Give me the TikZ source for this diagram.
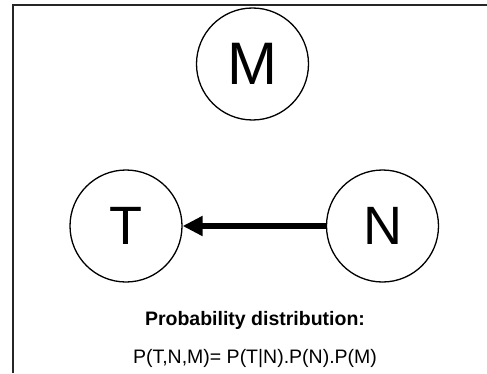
\documentclass[tikz,border=0pt]{standalone}
\usepackage{fontspec}
\setmainfont{Liberation Sans}
\usetikzlibrary{arrows.meta}

\tikzset{
  var/.style={circle, draw, line width=1.3pt, minimum size=112pt, inner sep=0pt,
    font=\fontsize{54}{54}\selectfont},
  frame/.style={line width=2pt, color=black!85},
  label/.style={anchor=base, inner sep=0pt, font=\fontsize{19.5}{19.5}\selectfont}
}

\begin{document}
\begin{tikzpicture}[x=1pt, y=1pt]

  \useasboundingbox (0,0) rectangle (487,373);

  \draw[frame] (13,0) -- (13,368) -- (487,368);

  \node[var, font=\fontsize{60}{60}\selectfont] (M) at (252.5,309) {M};
  \node[var] (T) at (126,147) {T};
  \node[var] (N) at (382.5,147) {N};

  \draw[-{Triangle[length=20pt, width=19pt]}, line width=5.5pt] (N) -- (T);

  \node[label, font=\fontsize{19.5}{19.5}\selectfont\bfseries] (title) at (255,48) {Probability distribution:};
  \node[label] (formula) at (255,10) {P(T,N,M)= P(T|N).P(N).P(M)};

\end{tikzpicture}
\end{document}
